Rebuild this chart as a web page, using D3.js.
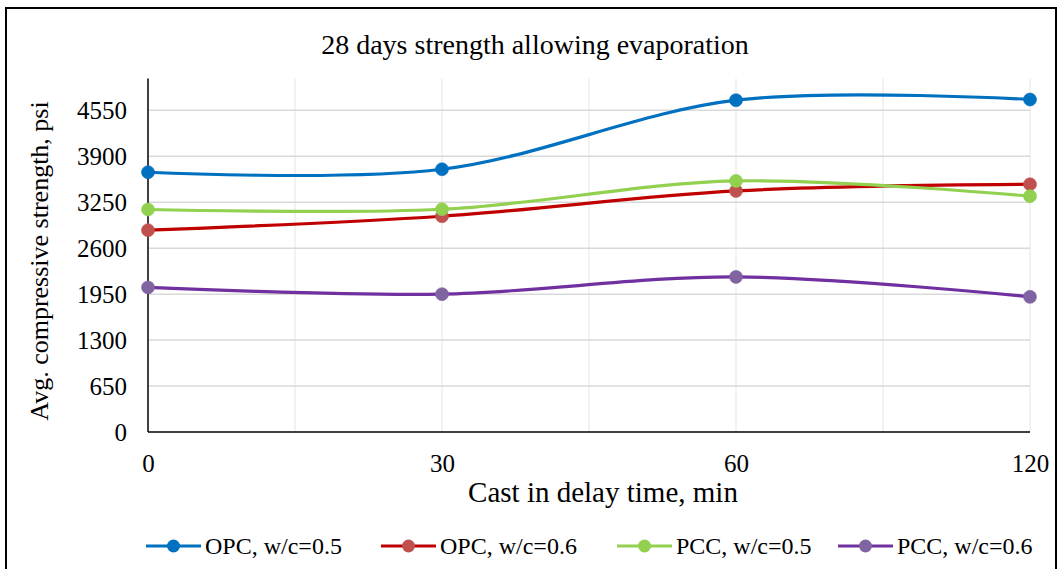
<!DOCTYPE html>
<html><head><meta charset="utf-8">
<script src="https://cdn.jsdelivr.net/npm/d3@7"></script>
<style>body{margin:0;background:#fff}svg{display:block}text{font-family:"Liberation Serif",serif;fill:#000}</style>
</head><body>
<svg id="c" width="1062" height="569"></svg>
<script>
const categories = ["0", "30", "60", "120"];
const opc05 = [3674, 3716, 4693, 4703];
const opc06 = [2854, 3052, 3410, 3504];
const pcc05 = [3147, 3151, 3551, 3335];
const pcc06 = [2045, 1950, 2194, 1912];
const yTicks = [0, 650, 1300, 1950, 2600, 3250, 3900, 4550];
const seriesNames = ["OPC, w/c=0.5", "OPC, w/c=0.6", "PCC, w/c=0.5", "PCC, w/c=0.6"];
const lineColors = ["#0070C0", "#C00000", "#92D050", "#7030A0"];
const markerColors = ["#0070C0", "#C0504D", "#92D050", "#8064A2"];

const series = [opc05, opc06, pcc05, pcc06].map((v, i) => ({name: seriesNames[i], values: v, line: lineColors[i], marker: markerColors[i]}));

const svg = d3.select("#c");
const L = 148, R = 1030, T = 78.5, B = 432;

svg.append("rect").attr("x", 6).attr("y", 8).attr("width", 1050).attr("height", 575)
  .attr("fill", "none").attr("stroke", "#000").attr("stroke-width", 2);

const x = d3.scalePoint().domain(categories).range([L, R]);
const xi = d3.scaleLinear().domain([0, categories.length - 1]).range([L, R]);
const y = d3.scaleLinear().domain([0, 5000]).range([B, T]);

// vertical gridlines
const vg = d3.range(0.5, categories.length - 0.5 + 0.01, 0.5);
svg.append("g").selectAll("line").data(vg).join("line")
  .attr("x1", d => xi(d)).attr("x2", d => xi(d)).attr("y1", T).attr("y2", B)
  .attr("stroke", "#eeeeee").attr("stroke-width", 1.5);
// horizontal gridlines
svg.append("g").selectAll("line").data(yTicks.filter(d => d > 0)).join("line")
  .attr("x1", L).attr("x2", R).attr("y1", d => y(d)).attr("y2", d => y(d))
  .attr("stroke", "#d9d9d9").attr("stroke-width", 1.5);

// axes
const ya = svg.append("g").attr("transform", `translate(${L},0)`)
  .call(d3.axisLeft(y).tickValues(yTicks).tickFormat(d3.format("d")).tickSize(0).tickPadding(21));
ya.select(".domain").attr("stroke", "#000").attr("stroke-width", 1.5).attr("d", `M0,${T}V${B}`);
ya.selectAll("text").style("font-size", "25px").style("font-family", "Liberation Serif").attr("dy", "0.33em");

const xa = svg.append("g").attr("transform", `translate(0,${B})`)
  .call(d3.axisBottom(x).tickSize(0));
xa.select(".domain").attr("stroke", "#000").attr("stroke-width", 1.5).attr("d", `M${L},0H${R}`);
xa.selectAll("text").style("font-size", "25px").style("font-family", "Liberation Serif").attr("dy", null).attr("y", 40);

// lines
const line = d3.line().x((d, i) => x(categories[i])).y(d => y(d)).curve(d3.curveCardinal.tension(0));
const g = svg.append("g");
series.forEach(s => {
  g.append("path").datum(s.values).attr("d", line).attr("fill", "none")
    .attr("stroke", s.line).attr("stroke-width", 3.2);
});
series.forEach(s => {
  g.selectAll(null).data(s.values).join("circle")
    .attr("cx", (d, i) => x(categories[i])).attr("cy", d => y(d)).attr("r", 6.5)
    .attr("fill", s.marker).attr("stroke", s.marker).attr("stroke-opacity", 0.6).attr("stroke-width", 1);
});

// titles
svg.append("text").attr("x", 535).attr("y", 54).attr("text-anchor", "middle")
  .style("font-size", "28px").text("28 days strength allowing evaporation");
svg.append("text").attr("transform", `translate(48,261) rotate(-90)`).attr("text-anchor", "middle")
  .style("font-size", "26px").text("Avg. compressive strength, psi");
svg.append("text").attr("x", 603).attr("y", 502).attr("text-anchor", "middle")
  .style("font-size", "29px").text("Cast in delay time, min");

// legend
const legX = [146, 381, 617, 838];
const lg = svg.append("g");
series.forEach((s, i) => {
  const lx = legX[i], ly = 546;
  lg.append("line").attr("x1", lx).attr("x2", lx + 55).attr("y1", ly).attr("y2", ly)
    .attr("stroke", s.line).attr("stroke-width", 3.2);
  lg.append("circle").attr("cx", lx + 27.5).attr("cy", ly).attr("r", 6.5).attr("fill", s.marker);
  lg.append("text").attr("x", lx + 59).attr("y", 554)
    .style("font-size", "24px").text(s.name);
});
</script>
</body></html>
